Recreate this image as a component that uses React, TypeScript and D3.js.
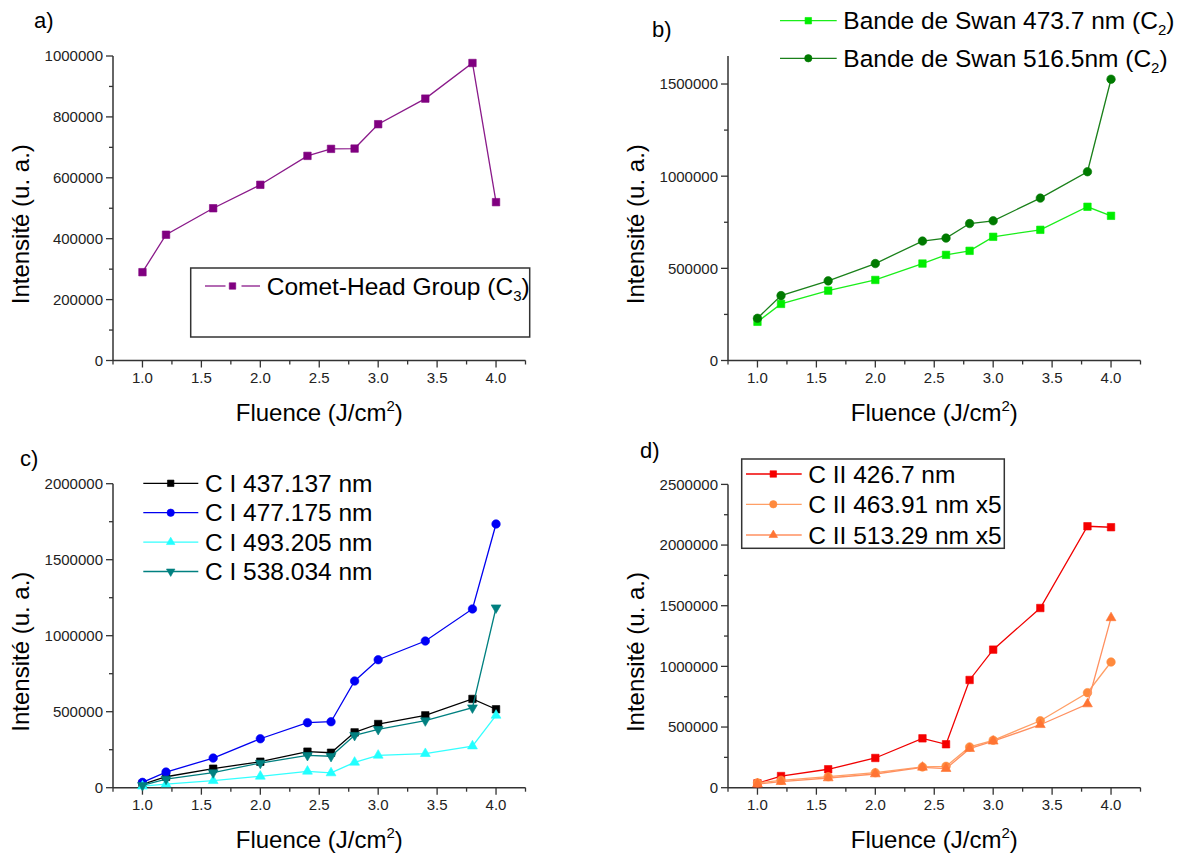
import React from 'react';
import * as d3 from 'd3';

const FONT = '"Liberation Sans", Arial, Helvetica, sans-serif';

// ---- data ----
const fluence = [1.0, 1.2, 1.6, 2.0, 2.4, 2.6, 2.8, 3.0, 3.4, 3.8, 4.0];

const cometHeadC3 = [290000, 413000, 500000, 577000, 672000, 695000, 696000, 776000, 860000, 977000, 520000];

const swan4737 = [210000, 307000, 379000, 437000, 526000, 573000, 595000, 671000, 709000, 834000, 785000];
const swan5165 = [229000, 352000, 432000, 526000, 648000, 664000, 743000, 758000, 881000, 1024000, 1526000];

const ci437 = [22000, 72000, 125000, 171000, 237000, 230000, 364000, 419000, 476000, 584000, 516000];
const ci477 = [35000, 103000, 195000, 322000, 428000, 434000, 702000, 842000, 965000, 1176000, 1735000];
const ci493 = [10000, 24000, 46000, 75000, 108000, 97000, 167000, 213000, 224000, 274000, 476000];
const ci538 = [15000, 57000, 99000, 162000, 213000, 207000, 345000, 384000, 441000, 526000, 1184000];

const cii426 = [36000, 96000, 152000, 245000, 407000, 358000, 888000, 1138000, 1481000, 2155000, 2147000];
const cii463 = [40000, 61000, 91000, 124000, 171000, 176000, 336000, 391000, 552000, 783000, 1036000];
const cii513 = [30000, 50000, 80000, 113000, 168000, 157000, 322000, 383000, 519000, 690000, 1400000];

const xMajorTicks = [1.0, 1.5, 2.0, 2.5, 3.0, 3.5, 4.0];
const xTickLabels = ['1.0', '1.5', '2.0', '2.5', '3.0', '3.5', '4.0'];
const xMinorTicks = [0.75, 1.25, 1.75, 2.25, 2.75, 3.25, 3.75, 4.25];

const yTicksA = [0, 200000, 400000, 600000, 800000, 1000000];
const yMinorA = [100000, 300000, 500000, 700000, 900000];
const yTicksB = [0, 500000, 1000000, 1500000];
const yMinorB = [250000, 750000, 1250000];
const yTicksC = [0, 500000, 1000000, 1500000, 2000000];
const yMinorC = [250000, 750000, 1250000, 1750000];
const yTicksD = [0, 500000, 1000000, 1500000, 2000000, 2500000];
const yMinorD = [250000, 750000, 1250000, 1750000, 2250000];

type Shape = 'square' | 'circle' | 'triangle' | 'triangleDown';

interface Series {
  values: number[];
  color: string;
  lineColor: string;
  shape: Shape;
  label: React.ReactNode;
}

function symbolPath(shape: Shape, big: boolean): string {
  const k = big ? 1 : 0.75;
  if (shape === 'square') return d3.symbol().type(d3.symbolSquare).size(56 * k)()!;
  if (shape === 'circle') return d3.symbol().type(d3.symbolCircle).size(57 * k)()!;
  return d3.symbol().type(d3.symbolTriangle).size(42 * k)()!;
}

function Marker({ shape, x, y, color, big = true }: { shape: Shape; x: number; y: number; color: string; big?: boolean }) {
  const rot = shape === 'triangleDown' ? ' rotate(180)' : '';
  return <path d={symbolPath(shape, big)} transform={`translate(${x},${y})${rot}`} fill={color} stroke={color} strokeWidth={0.6} />;
}

interface LegendCfg {
  box?: { x: number; y: number; w: number; h: number };
  rows: number[];
  lineX0: number;
  lineX1: number;
  markerX: number;
  textX: number;
  gap?: boolean;
}

interface PanelProps {
  axisX: number;
  topY: number;
  bottomY: number;
  yMax: number;
  yTicks: number[];
  yMinor: number[];
  series: Series[];
  legend: LegendCfg;
  label: string;
  labelX: number;
  labelY: number;
}

function Panel(p: PanelProps) {
  const x = d3.scaleLinear().domain([0.75, 4.25]).range([p.axisX, p.axisX + 412.5]);
  const y = d3.scaleLinear().domain([0, p.yMax]).range([p.bottomY, p.topY]);
  const line = d3.line<number>().x((_, i) => x(fluence[i])).y((v) => y(v));
  const axisColor = '#333';
  const plotCX = (p.axisX + p.axisX + 412.5) / 2;
  const plotCY = (p.topY + p.bottomY) / 2 + 16;
  const lg = p.legend;
  return (
    <g>
      <text x={p.labelX} y={p.labelY} fontSize={22} fontFamily={FONT} fill="#000">{p.label}</text>
      {/* axes */}
      <line x1={p.axisX} x2={p.axisX} y1={p.topY} y2={p.bottomY} stroke={axisColor} strokeWidth={1.5} />
      <line x1={p.axisX} x2={p.axisX + 412.5} y1={p.bottomY} y2={p.bottomY} stroke={axisColor} strokeWidth={1.5} />
      {p.yTicks.map((t) => (
        <g key={'yt' + t}>
          <line x1={p.axisX - 7} x2={p.axisX} y1={y(t)} y2={y(t)} stroke={axisColor} strokeWidth={1.3} />
          <text x={p.axisX - 10} y={y(t)} dy="0.36em" textAnchor="end" fontSize={15} fontFamily={FONT} fill="#222">{String(t)}</text>
        </g>
      ))}
      {p.yMinor.map((t) => (
        <line key={'ym' + t} x1={p.axisX - 4} x2={p.axisX} y1={y(t)} y2={y(t)} stroke={axisColor} strokeWidth={1.3} />
      ))}
      {xMajorTicks.map((t, i) => (
        <g key={'xt' + t}>
          <line x1={x(t)} x2={x(t)} y1={p.bottomY} y2={p.bottomY + 7} stroke={axisColor} strokeWidth={1.3} />
          <text x={x(t)} y={p.bottomY + 22.5} textAnchor="middle" fontSize={15} fontFamily={FONT} fill="#222">{xTickLabels[i]}</text>
        </g>
      ))}
      {xMinorTicks.map((t) => (
        <line key={'xm' + t} x1={x(t)} x2={x(t)} y1={p.bottomY} y2={p.bottomY + 4} stroke={axisColor} strokeWidth={1.3} />
      ))}
      {/* titles */}
      <text x={plotCX} y={p.bottomY + 60} textAnchor="middle" fontSize={24} fontFamily={FONT} fill="#000">
        Fluence (J/cm<tspan dy={-10} fontSize={15}>2</tspan><tspan dy={10}>)</tspan>
      </text>
      <text transform={`translate(${p.axisX - 84},${plotCY}) rotate(-90)`} textAnchor="middle" fontSize={24} fontFamily={FONT} fill="#000">
        Intensité (u. a.)
      </text>
      {/* legend box */}
      {lg.box && (
        <rect x={lg.box.x} y={lg.box.y} width={lg.box.w} height={lg.box.h} fill="#fff" stroke="#333" strokeWidth={1.5} />
      )}
      {/* series */}
      {p.series.map((s, si) => (
        <g key={'s' + si}>
          <path d={line(s.values)!} fill="none" stroke={s.lineColor} strokeWidth={1.3} />
          {s.values.map((v, i) => (
            <Marker key={i} shape={s.shape} x={x(fluence[i])} y={y(v)} color={s.color} />
          ))}
        </g>
      ))}
      {/* legend entries */}
      {p.series.map((s, si) => {
        const ry = lg.rows[si];
        return (
          <g key={'l' + si}>
            {lg.gap ? (
              <>
                <line x1={lg.lineX0} x2={lg.markerX - 7} y1={ry} y2={ry} stroke={s.lineColor} strokeWidth={1.3} />
                <line x1={lg.markerX + 9} x2={lg.lineX1} y1={ry} y2={ry} stroke={s.lineColor} strokeWidth={1.3} />
              </>
            ) : (
              <line x1={lg.lineX0} x2={lg.lineX1} y1={ry} y2={ry} stroke={s.lineColor} strokeWidth={1.3} />
            )}
            <Marker shape={s.shape} x={lg.markerX} y={ry} color={s.color} big={false} />
            <text x={lg.textX} y={ry + 8.5} fontSize={24.5} fontFamily={FONT} fill="#000">{s.label}</text>
          </g>
        );
      })}
    </g>
  );
}

const sub = (t: string) => (
  <>
    <tspan dy={6} fontSize={15}>{t}</tspan>
    <tspan dy={-6}>)</tspan>
  </>
);

export default function App() {
  const seriesA: Series[] = [
    { values: cometHeadC3, color: '#800080', lineColor: '#8a1a8a', shape: 'square', label: <>Comet-Head Group (C{sub('3')}</> },
  ];
  const seriesB: Series[] = [
    { values: swan4737, color: '#00EE00', lineColor: '#1aee1a', shape: 'square', label: <>Bande de Swan 473.7 nm (C{sub('2')}</> },
    { values: swan5165, color: '#007A00', lineColor: '#1a801a', shape: 'circle', label: <>Bande de Swan 516.5nm (C{sub('2')}</> },
  ];
  const seriesC: Series[] = [
    { values: ci437, color: '#000000', lineColor: '#000000', shape: 'square', label: 'C I 437.137 nm' },
    { values: ci477, color: '#0000F5', lineColor: '#0000F0', shape: 'circle', label: 'C I 477.175 nm' },
    { values: ci493, color: '#22FFFF', lineColor: '#33FFFF', shape: 'triangle', label: 'C I 493.205 nm' },
    { values: ci538, color: '#008080', lineColor: '#008080', shape: 'triangleDown', label: 'C I 538.034 nm' },
  ];
  const seriesD: Series[] = [
    { values: cii426, color: '#F50000', lineColor: '#F00000', shape: 'square', label: 'C II 426.7 nm' },
    { values: cii463, color: '#FF8A3D', lineColor: '#FF9F66', shape: 'circle', label: 'C II 463.91 nm x5' },
    { values: cii513, color: '#FF7433', lineColor: '#FF9060', shape: 'triangle', label: 'C II 513.29 nm x5' },
  ];

  return (
    <svg width={1181} height={857} style={{ position: 'absolute', left: 0, top: 0, background: '#fff' }} fontFamily={FONT}>
      <rect x={0} y={0} width={1181} height={857} fill="#fff" />
      <Panel
        axisX={113} topY={56} bottomY={360.5} yMax={1000000}
        yTicks={yTicksA} yMinor={yMinorA} series={seriesA}
        legend={{ box: { x: 190.7, y: 268, w: 339, h: 69 }, rows: [286], lineX0: 205, lineX1: 260, markerX: 232.5, textX: 266.7, gap: true }}
        label="a)" labelX={34} labelY={28}
      />
      <Panel
        axisX={728} topY={56} bottomY={360.5} yMax={1652000}
        yTicks={yTicksB} yMinor={yMinorB} series={seriesB}
        legend={{ rows: [20.7, 58.3], lineX0: 780, lineX1: 836.7, markerX: 808.3, textX: 843.3 }}
        label="b)" labelX={652} labelY={37}
      />
      <Panel
        axisX={113} topY={483.7} bottomY={787.7} yMax={2000000}
        yTicks={yTicksC} yMinor={yMinorC} series={seriesC}
        legend={{ rows: [483.3, 512.7, 542.1, 571.5], lineX0: 143.3, lineX1: 198.3, markerX: 170.7, textX: 205 }}
        label="c)" labelX={20} labelY={466}
      />
      <Panel
        axisX={728} topY={484.4} bottomY={787.7} yMax={2500000}
        yTicks={yTicksD} yMinor={yMinorD} series={seriesD}
        legend={{ box: { x: 741.7, y: 459, w: 262.6, h: 89.3 }, rows: [474, 504.3, 535], lineX0: 746, lineX1: 801.7, markerX: 773.3, textX: 808.3 }}
        label="d)" labelX={640} labelY={458}
      />
    </svg>
  );
}
